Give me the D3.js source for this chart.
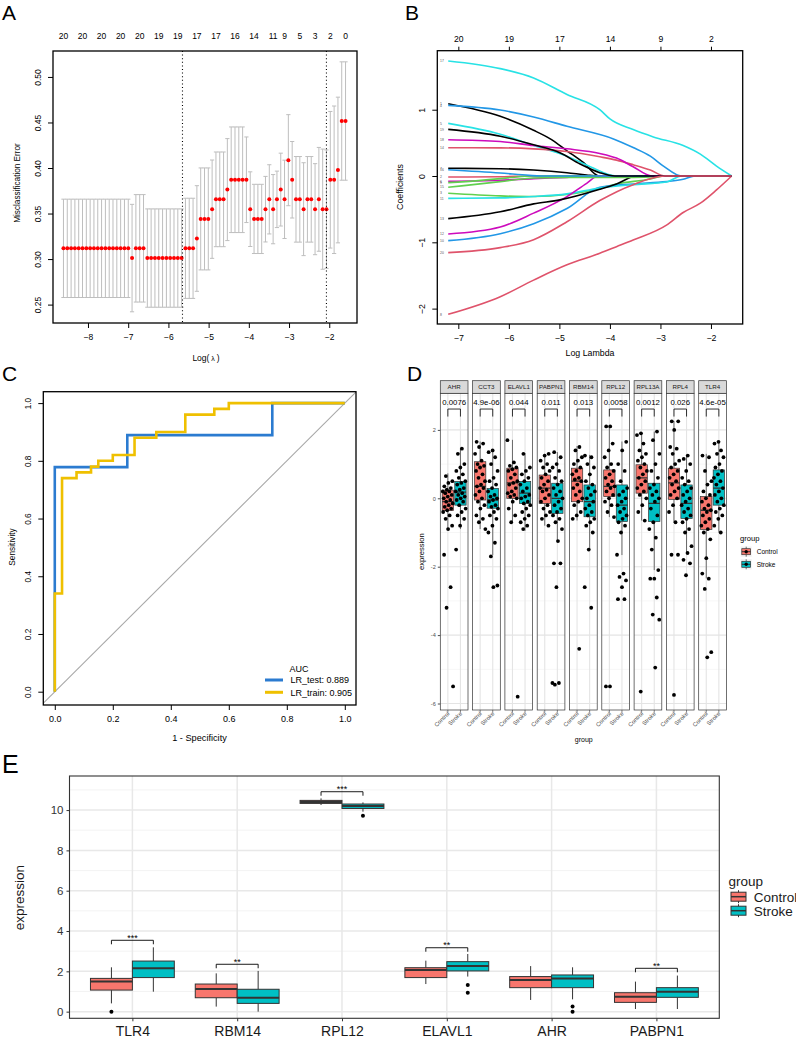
<!DOCTYPE html>
<html>
<head>
<meta charset="utf-8">
<script src="https://cdn.jsdelivr.net/npm/d3@7/dist/d3.min.js"></script>
<style>
html,body{margin:0;padding:0;background:#fff;}
svg{display:block;}
</style>
</head>
<body>
<svg id="fig" width="796" height="1038" xmlns="http://www.w3.org/2000/svg"></svg>
<script>
// ======================= DATA =======================
// ---- Panel A : cv.glmnet misclassification curve ----
const cvLogLambda = [-8.610,-8.515,-8.420,-8.326,-8.231,-8.136,-8.041,-7.946,-7.852,-7.757,
  -7.662,-7.567,-7.472,-7.378,-7.283,-7.188,-7.093,-6.998,-6.904,-6.809,
  -6.714,-6.619,-6.524,-6.430,-6.335,-6.240,-6.145,-6.050,-5.956,-5.861,
  -5.766,-5.671,-5.576,-5.482,-5.387,-5.292,-5.197,-5.102,-5.008,-4.913,
  -4.818,-4.723,-4.628,-4.534,-4.439,-4.344,-4.249,-4.154,-4.060,-3.965,
  -3.870,-3.775,-3.680,-3.586,-3.491,-3.396,-3.301,-3.206,-3.112,-3.017,
  -2.922,-2.827,-2.732,-2.638,-2.543,-2.448,-2.353,-2.258,-2.164,-2.069,
  -1.974,-1.879,-1.784,-1.690,-1.595];
const cvError = [0.3118,0.3118,0.3118,0.3118,0.3118,0.3118,0.3118,0.3118,0.3118,0.3118,
  0.3118,0.3118,0.3118,0.3118,0.3118,0.3118,0.3118,0.3118,0.3011,0.3118,
  0.3118,0.3118,0.3011,0.3011,0.3011,0.3011,0.3011,0.3011,0.3011,0.3011,
  0.3011,0.3011,0.3118,0.3118,0.3118,0.3226,0.3441,0.3441,0.3441,0.3548,
  0.3656,0.3656,0.3656,0.3763,0.3871,0.3871,0.3871,0.3871,0.3871,0.3548,
  0.3441,0.3441,0.3441,0.3548,0.3656,0.3548,0.3656,0.3763,0.3656,0.4086,
  0.3871,0.3656,0.3656,0.3548,0.3656,0.3656,0.3548,0.3656,0.3548,0.3548,
  0.3871,0.3871,0.3978,0.4516,0.4516];
const cvSD = [0.054,0.054,0.054,0.054,0.054,0.054,0.054,0.054,0.054,0.054,
  0.054,0.054,0.054,0.054,0.054,0.054,0.054,0.054,0.059,0.059,
  0.059,0.059,0.054,0.054,0.054,0.054,0.054,0.054,0.054,0.054,
  0.054,0.054,0.055,0.055,0.055,0.058,0.056,0.056,0.056,0.054,
  0.052,0.052,0.052,0.056,0.058,0.058,0.058,0.058,0.047,0.041,
  0.038,0.038,0.038,0.036,0.038,0.038,0.031,0.040,0.043,0.050,
  0.042,0.047,0.047,0.051,0.047,0.047,0.050,0.057,0.066,0.065,
  0.075,0.081,0.080,0.065,0.065];
const cvMinLogLambda = -5.65;
const cv1seLogLambda = -2.07;
const cvNzeroAt = [-8.610,-8.136,-7.662,-7.188,-6.714,-6.240,-5.766,-5.292,-4.818,-4.344,-3.870,-3.396,-3.112,-2.732,-2.353,-1.974,-1.595];
const cvNzeroLabel = ["20","20","20","20","20","19","19","17","17","16","14","11","9","5","3","2","0"];
const aXTicks = [-8,-7,-6,-5,-4,-3,-2];
const aYTicks = [0.25,0.30,0.35,0.40,0.45,0.50];

// ---- Panel B : coefficient paths ----
const bXTicks = [-7,-6,-5,-4,-3,-2];
const bTopLabels = ["20","19","17","14","9","2"];
const bYTicks = [-2,-1,0,1];
const coefColors = ["#000000","#DF536B","#61D04F","#2297E6","#28E2E5","#CD0BBC"];
const coefPaths = [
  [[-7.2,1.09],[-6.17,0.90],[-5.51,0.69],[-5.18,0.56],[-4.85,0.38],[-4.52,0.20],[-4.21,0]],
  [[-7.2,-0.015],[-6.17,-0.01],[-5.51,0]],
  [[-7.2,-0.26],[-6.17,-0.30],[-5.51,-0.31],[-4.85,-0.28],[-4.33,-0.21],[-3.87,-0.12],[-3.2,-0.045],[-2.94,0]],
  [[-7.2,1.066],[-6.17,0.995],[-5.51,0.89],[-4.85,0.75],[-3.93,0.56],[-3.54,0.43],[-3.2,0.30],[-2.94,0.15],[-2.58,0]],
  [[-7.2,0.794],[-6.17,0.63],[-5.51,0.46],[-4.85,0.30],[-4.39,0.14],[-3.87,0]],
  [[-7.2,-0.08],[-6.17,-0.065],[-5.51,-0.04],[-4.85,-0.02],[-4.33,0]],
  [[-7.2,0.116],[-6.17,0.11],[-5.51,0.09],[-4.85,0.05],[-4.46,0.015],[-4.23,0]],
  [[-7.2,-2.086],[-6.17,-1.82],[-5.51,-1.57],[-4.85,-1.34],[-4.2,-1.166],[-3.87,-1.066],[-3.54,-0.965],[-2.88,-0.74],[-2.55,-0.55],[-2.21,-0.41],[-1.89,-0.21],[-1.59,0]],
  [[-7.2,-0.10],[-6.6,-0.07],[-6.17,-0.04],[-5.8,-0.01],[-5.6,0]],
  [[-7.2,-0.975],[-6.17,-0.87],[-5.51,-0.72],[-4.85,-0.49],[-4.2,-0.17],[-3.54,-0.12],[-2.88,-0.085],[-2.55,-0.05],[-2.31,0]],
  [[-7.2,-0.337],[-6.17,-0.33],[-5.51,-0.31],[-4.85,-0.27],[-4.2,-0.18],[-3.54,-0.13],[-2.88,-0.09],[-2.58,0]],
  [[-7.2,-0.875],[-6.17,-0.77],[-5.51,-0.56],[-4.85,-0.31],[-4.46,-0.11],[-4.23,0]],
  [[-7.2,-0.643],[-6.17,-0.54],[-5.51,-0.42],[-4.99,-0.36],[-4.2,-0.2],[-3.87,-0.12],[-3.47,0]],
  [[-7.2,0.427],[-6.17,0.425],[-5.51,0.41],[-4.85,0.37],[-4.2,0.29],[-3.87,0.24],[-3.54,0.17],[-3.2,0.09],[-2.91,0]],
  [[-7.2,-0.17],[-6.17,-0.085],[-5.51,-0.03],[-4.85,-0.02],[-3.54,-0.02],[-3.1,-0.01],[-2.94,0]],
  [[-7.2,0.095],[-6.17,0.045],[-5.6,0.01],[-5.38,0]],
  [[-7.2,1.735],[-6.17,1.62],[-5.51,1.48],[-4.85,1.23],[-4.2,1.0],[-4.0,0.86],[-3.54,0.70],[-3.14,0.59],[-2.55,0.46],[-2.21,0.33],[-1.89,0.15],[-1.59,0]],
  [[-7.2,0.548],[-6.17,0.52],[-5.51,0.46],[-4.85,0.41],[-4.2,0.34],[-3.87,0.27],[-3.54,0.14],[-3.17,0]],
  [[-7.2,0.704],[-6.17,0.60],[-5.51,0.47],[-4.99,0.35],[-4.59,0.18],[-4.2,0.05],[-3.9,0]],
  [[-7.2,-1.156],[-6.17,-1.08],[-5.51,-0.96],[-4.85,-0.69],[-4.2,-0.37],[-3.54,-0.13],[-2.91,0]]
];
const coefEndLogLambda = -1.59;

// ---- Panel C : ROC ----
const rocTestFPR = [0,0,0.25,0.25,0.75,0.75,1];
const rocTestTPR = [0,0.778,0.778,0.889,0.889,1,1];
const rocTrainFPR = [0,0,0.025,0.025,0.075,0.075,0.125,0.125,0.15,0.15,0.2,0.2,0.275,0.275,0.35,0.35,0.45,0.45,0.55,0.55,0.6,0.6,1];
const rocTrainTPR = [0,0.34,0.34,0.74,0.74,0.76,0.76,0.78,0.78,0.80,0.80,0.82,0.82,0.88,0.88,0.90,0.90,0.96,0.96,0.98,0.98,1,1];
const rocNames = ["LR_test: 0.889","LR_train: 0.905"];
const rocColors = ["#2B7BD0","#EFC000"];
const cTicks = [0,0.2,0.4,0.6,0.8,1.0];

// ---- Panel D : faceted boxplots ----
const genesD = ["AHR","CCT3","ELAVL1","PABPN1","RBM14","RPL12","RPL13A","RPL4","TLR4"];
const pvalD = ["0.0076","4.9e-06","0.044","0.011","0.013","0.0058","0.0012","0.026","4.6e-05"];
const groups = ["Control","Stroke"];
const groupColors = ["#F8766D","#00BFC4"];
// [lower whisker, q1, median, q3, upper whisker]
const boxD_Control = [[-0.9,-0.36,-0.1,0.24,0.73],[-0.9,-0.05,0.35,1.07,1.66],[-0.71,0.0,0.45,0.88,1.71],[-0.8,-0.15,0.3,0.68,1.3],[-0.65,-0.1,0.5,0.88,1.53],[-0.55,0.05,0.35,0.83,2.13],[-0.65,0.15,0.6,0.98,1.92],[-0.7,-0.03,0.45,0.88,2.26],[-2.34,-0.91,-0.35,0.05,1.3]];
const boxD_Stroke = [[-0.9,-0.2,0.18,0.49,1.45],[-1.66,-0.29,-0.05,0.29,1.4],[-0.95,-0.15,0.15,0.49,1.32],[-1.22,-0.44,0.0,0.44,1.35],[-1.49,-0.54,-0.1,0.39,1.27],[-1.66,-0.68,-0.2,0.39,1.66],[-2.1,-0.68,-0.15,0.44,1.95],[-1.6,-0.59,-0.15,0.39,1.25],[-1.0,-0.2,0.3,0.83,1.65]];
const ptsD_Control = [
  [0.65,0.5,0.45,0.35,0.3,0.25,0.2,0.2,0.15,0.1,0.05,0.0,-0.05,-0.1,-0.15,-0.2,-0.25,-0.3,-0.35,-0.4,-0.5,-0.6,-0.8,-0.9,-1.65,-2.6,-3.2,-5.5],
  [1.65,1.6,1.5,1.3,1.1,1.0,0.95,0.9,0.8,0.7,0.6,0.5,0.4,0.35,0.3,0.2,0.1,0.0,-0.1,-0.2,-0.3,-0.5,-0.6,-0.7,-0.9],
  [1.7,1.05,0.95,0.9,0.85,0.8,0.7,0.6,0.5,0.45,0.4,0.3,0.2,0.15,0.1,0.05,0.0,-0.1,-0.3,-0.5,-0.7,-5.8],
  [1.3,1.25,1.1,1.0,0.9,0.8,0.7,0.6,0.5,0.4,0.3,0.25,0.2,0.1,0.0,-0.1,-0.2,-0.3,-0.4,-0.5,-0.6,-0.8],
  [1.5,1.4,1.2,1.1,1.0,0.9,0.8,0.7,0.6,0.55,0.5,0.4,0.3,0.2,0.1,0.0,-0.1,-0.2,-0.4,-0.5,-0.6,-4.4],
  [2.1,2.1,1.6,1.4,1.2,1.0,0.9,0.8,0.7,0.6,0.5,0.4,0.35,0.3,0.2,0.1,0.0,-0.1,-0.2,-0.4,-0.55,-5.5,-5.5],
  [1.9,1.85,1.6,1.4,1.3,1.2,1.1,1.0,0.9,0.8,0.7,0.6,0.5,0.4,0.3,0.2,0.1,0.0,-0.2,-0.4,-0.65,-5.65],
  [2.25,2.25,2.0,1.5,1.45,1.3,1.1,1.0,0.9,0.8,0.7,0.6,0.5,0.4,0.3,0.2,0.1,0.0,-0.2,-0.4,-0.7,-1.65,-1.65,-5.75],
  [1.25,1.2,0.8,0.5,0.4,0.2,0.1,0.0,-0.1,-0.2,-0.3,-0.35,-0.4,-0.5,-0.6,-0.7,-0.8,-0.9,-1.0,-1.2,-1.75,-2.2,-2.35,-2.65,-4.5,-4.65]
];
const ptsD_Stroke = [
  [1.45,1.3,1.0,0.9,0.8,0.7,0.6,0.5,0.45,0.4,0.3,0.25,0.2,0.15,0.1,0.05,0.0,-0.05,-0.1,-0.2,-0.3,-0.4,-0.5,-0.6,-0.8,-1.5],
  [1.4,1.35,1.2,1.0,0.8,0.6,0.5,0.4,0.3,0.2,0.1,0.05,0.0,-0.05,-0.1,-0.2,-0.25,-0.3,-0.4,-0.5,-0.6,-0.8,-1.0,-1.3,-1.7,-2.55,-2.6],
  [1.3,0.9,0.8,0.7,0.6,0.5,0.4,0.3,0.2,0.1,0.05,0.0,-0.1,-0.15,-0.2,-0.3,-0.4,-0.5,-0.6,-0.7,-0.8,-0.9],
  [1.35,1.2,1.0,0.9,0.8,0.6,0.5,0.4,0.3,0.2,0.1,0.0,-0.1,-0.2,-0.3,-0.4,-0.5,-0.6,-0.7,-0.9,-1.25,-1.9,-1.9,-2.6,-5.4,-5.4,-5.45],
  [1.25,1.2,1.0,0.9,0.7,0.5,0.4,0.3,0.2,0.1,0.0,-0.1,-0.2,-0.3,-0.4,-0.5,-0.6,-0.7,-0.8,-1.0,-1.5,-2.6,-3.2],
  [1.65,1.4,1.0,0.8,0.5,0.3,0.2,0.1,0.0,-0.1,-0.2,-0.3,-0.4,-0.5,-0.6,-0.7,-0.8,-1.0,-1.65,-2.2,-2.3,-2.4,-2.6,-2.95,-2.95],
  [1.95,1.7,1.3,1.0,0.8,0.6,0.4,0.3,0.2,0.1,0.0,-0.1,-0.3,-0.5,-0.7,-0.9,-1.15,-1.5,-2.1,-2.35,-2.35,-2.9,-3.4,-3.55,-4.95],
  [1.25,1.15,1.0,0.8,0.6,0.5,0.4,0.3,0.2,0.1,0.0,-0.1,-0.2,-0.3,-0.4,-0.5,-0.6,-0.7,-0.9,-1.0,-1.4,-1.6,-1.8,-1.9,-2.25],
  [1.65,1.6,1.4,1.3,1.2,1.0,0.9,0.8,0.7,0.6,0.5,0.4,0.3,0.2,0.1,0.0,-0.1,-0.2,-0.3,-0.4,-0.5,-0.6,-0.8,-1.0]
];
const dYTicks = [-6,-4,-2,0,2];
const dYMinor = [-5,-3,-1,1,3];

// ---- Panel E : grouped boxplots ----
const genesE = ["TLR4","RBM14","RPL12","ELAVL1","AHR","PABPN1"];
const boxE_Control = [[0.41,1.07,1.49,1.65,2.2],[0.25,0.69,1.12,1.37,1.9],[10.25,10.33,10.4,10.48,10.58],[1.37,1.69,2.07,2.18,2.53],[0.58,1.19,1.57,1.74,2.26],[0.13,0.46,0.74,0.94,1.49]];
const boxE_Stroke = [[0.99,1.69,2.15,2.51,3.19],[0.0,0.41,0.69,1.11,2.02],[9.92,10.08,10.2,10.30,10.38],[1.74,2.02,2.26,2.48,2.86],[0.61,1.19,1.65,1.82,2.2],[0.13,0.71,0.99,1.19,1.79]];
const outE_Control = [[0.0],[],[],[],[],[]];
const outE_Stroke = [[],[],[9.72],[1.32,0.94],[0.25,0.0],[]];
const sigE = ["***","**","***","**","","**"];
const sigE_y = [3.54,2.35,10.91,3.17,null,2.15];
const eYTicks = [0,2,4,6,8,10];
const eYMinor = [1,3,5,7,9,11];

// ======================= DRAWING =======================
const FONT = '"Liberation Sans", Arial, Helvetica, sans-serif';
const svg = d3.select("#fig").attr("font-family", FONT);
svg.append("rect").attr("width",796).attr("height",1038).attr("fill","#fff");
const minus = v => (v < 0 ? "\u2212" + Math.abs(v) : String(v));

function panelLabel(t,x,y,s){ svg.append("text").attr("x",x).attr("y",y).attr("font-size",s).attr("fill","#000").text(t); }
panelLabel("A",2,20,21); panelLabel("B",405,20,21); panelLabel("C",2,381,21); panelLabel("D",407,381,21); panelLabel("E",2,773,25);

function styleAxis(g, fs, col){
  g.attr("font-family",FONT).attr("font-size",fs);
  g.select(".domain").remove();
  g.selectAll(".tick line").attr("stroke",col||"#000");
  g.selectAll(".tick text").attr("fill",col||"#000");
}
function rotLeft(g, off){
  g.selectAll(".tick text").attr("x",null).attr("dy",null).attr("text-anchor","middle")
   .attr("transform",`translate(${-off},0) rotate(-90)`);
}
function rotTitle(t,cx,cy,fs,col){
  svg.append("text").attr("transform",`translate(${cx},${cy}) rotate(-90)`).attr("text-anchor","middle")
    .attr("font-size",fs).attr("fill",col||"#000").text(t);
}

// ---------------- Panel A ----------------
(function(){
  const L=53,R=357,T=51,B=323;
  const x = d3.scaleLinear().domain([-8.87,-1.31]).range([L,R]);
  const y = d3.scaleLinear().domain([0.2298,0.5285]).range([B,T]);
  const g = svg.append("g");
  cvLogLambda.forEach((l,i)=>{
    const cx=x(l), yu=y(cvError[i]+cvSD[i]), yl=y(cvError[i]-cvSD[i]);
    g.append("line").attr("x1",cx).attr("x2",cx).attr("y1",yu).attr("y2",yl).attr("stroke","#BEBEBE").attr("stroke-width",1);
    [yu,yl].forEach(yy=>g.append("line").attr("x1",cx-2.1).attr("x2",cx+2.1).attr("y1",yy).attr("y2",yy).attr("stroke","#BEBEBE").attr("stroke-width",1));
  });
  g.selectAll("circle.cv").data(cvLogLambda).join("circle").attr("cx",d=>x(d)).attr("cy",(d,i)=>y(cvError[i])).attr("r",2).attr("fill","#FF0000");
  [cvMinLogLambda,cv1seLogLambda].forEach(v=>g.append("line").attr("x1",x(v)).attr("x2",x(v)).attr("y1",T).attr("y2",B)
     .attr("stroke","#000").attr("stroke-width",1.1).attr("stroke-dasharray","1,2.6"));
  g.append("rect").attr("x",L).attr("y",T).attr("width",R-L).attr("height",B-T).attr("fill","none").attr("stroke","#000").attr("stroke-width",1.3);
  const ax = g.append("g").attr("transform",`translate(0,${B})`)
    .call(d3.axisBottom(x).tickValues(aXTicks).tickSize(5).tickPadding(6).tickFormat(minus));
  styleAxis(ax,8.5);
  const ay = g.append("g").attr("transform",`translate(${L},0)`)
    .call(d3.axisLeft(y).tickValues(aYTicks).tickSize(5).tickFormat(d3.format(".2f")));
  styleAxis(ay,8.5); rotLeft(ay,12);
  g.selectAll("text.nz").data(cvNzeroAt).join("text").attr("x",d=>x(d)).attr("y",39).attr("text-anchor","middle")
    .attr("font-size",8.5).text((d,i)=>cvNzeroLabel[i]);
  const xt = g.append("text").attr("x",206).attr("y",361).attr("text-anchor","middle").attr("font-size",8.5);
  xt.append("tspan").text("Log(");
  xt.append("tspan").attr("font-size",7).text(" \u03bb ");
  xt.append("tspan").text(")");
  rotTitle("Misclassification Error",20,183,8.2);
})();

// ---------------- Panel B ----------------
(function(){
  const L=437.3,R=742.7,T=50.7,B=324;
  const x = d3.scaleLinear().domain([-7.416,-1.372]).range([L,R]);
  const y = d3.scaleLinear().domain([-2.232,1.89]).range([B,T]);
  const g = svg.append("g");
  svg.append("clipPath").attr("id","clipB").append("rect").attr("x",L).attr("y",T).attr("width",R-L).attr("height",B-T);
  const lg = g.append("g").attr("clip-path","url(#clipB)");
  const line = d3.line().x(d=>x(d[0])).y(d=>y(d[1])).curve(d3.curveMonotoneX);
  coefPaths.forEach((p,i)=>{
    const pts = p.slice();
    if (pts[pts.length-1][0] < coefEndLogLambda - 0.001) pts.push([coefEndLogLambda,0]);
    lg.append("path").attr("d",line(pts)).attr("fill","none").attr("stroke",coefColors[i%6]).attr("stroke-width",1.6);
  });
  coefPaths.forEach((p,i)=>{
    g.append("text").attr("x",440).attr("y",y(p[0][1])+1.2).attr("font-size",3.4).attr("fill","#555").text(String(i+1));
  });
  g.append("rect").attr("x",L).attr("y",T).attr("width",R-L).attr("height",B-T).attr("fill","none").attr("stroke","#000").attr("stroke-width",1.3);
  const ax = g.append("g").attr("transform",`translate(0,${B})`)
    .call(d3.axisBottom(x).tickValues(bXTicks).tickSize(5).tickPadding(6).tickFormat(minus));
  styleAxis(ax,8.8);
  const at = g.append("g").attr("transform",`translate(0,${T})`)
    .call(d3.axisTop(x).tickValues(bXTicks).tickSize(4).tickPadding(5).tickFormat((d,i)=>bTopLabels[i]));
  styleAxis(at,8.6);
  const ay = g.append("g").attr("transform",`translate(${L},0)`)
    .call(d3.axisLeft(y).tickValues(bYTicks).tickSize(5).tickFormat(minus));
  styleAxis(ay,8.8); rotLeft(ay,12);
  g.append("text").attr("x",590).attr("y",355.5).attr("text-anchor","middle").attr("font-size",8.8).text("Log Lambda");
  rotTitle("Coefficients",403,187,8.8);
})();

// ---------------- Panel C ----------------
(function(){
  const L=43.3,R=356,T=391.7,B=705;
  const x = d3.scaleLinear().domain([-0.0396,1.0386]).range([L,R]);
  const y = d3.scaleLinear().domain([-0.0461,1.0395]).range([B,T]);
  const g = svg.append("g");
  svg.append("clipPath").attr("id","clipC").append("rect").attr("x",L).attr("y",T).attr("width",R-L).attr("height",B-T);
  const cg = g.append("g").attr("clip-path","url(#clipC)");
  cg.append("line").attr("x1",x(-0.1)).attr("y1",y(-0.1)).attr("x2",x(1.1)).attr("y2",y(1.1)).attr("stroke","#A8A8A8").attr("stroke-width",1.1);
  const line = d3.line().x(d=>x(d[0])).y(d=>y(d[1]));
  cg.append("path").attr("d",line(rocTestFPR.map((f,i)=>[f,rocTestTPR[i]]))).attr("fill","none").attr("stroke",rocColors[0]).attr("stroke-width",2.6);
  cg.append("path").attr("d",line(rocTrainFPR.map((f,i)=>[f,rocTrainTPR[i]]))).attr("fill","none").attr("stroke",rocColors[1]).attr("stroke-width",2.6);
  g.append("rect").attr("x",L).attr("y",T).attr("width",R-L).attr("height",B-T).attr("fill","none").attr("stroke","#000").attr("stroke-width",1.3);
  const ax = g.append("g").attr("transform",`translate(0,${B})`)
    .call(d3.axisBottom(x).tickValues(cTicks).tickSize(5).tickPadding(6).tickFormat(d3.format(".1f")));
  styleAxis(ax,9);
  const ay = g.append("g").attr("transform",`translate(${L},0)`)
    .call(d3.axisLeft(y).tickValues(cTicks).tickSize(5).tickFormat(d3.format(".1f")));
  styleAxis(ay,8.2); rotLeft(ay,12);
  g.append("text").attr("x",199.5).attr("y",740.5).attr("text-anchor","middle").attr("font-size",9.2).text("1 - Specificity");
  rotTitle("Sensitivity",15,547,8.3);
  g.append("text").attr("x",289.5).attr("y",671.5).attr("font-size",9).text("AUC");
  rocNames.forEach((n,i)=>{
    const yy = 680 + i*12.3;
    g.append("line").attr("x1",265).attr("x2",283).attr("y1",yy).attr("y2",yy).attr("stroke",rocColors[i]).attr("stroke-width",3);
    g.append("text").attr("x",290.4).attr("y",yy+3.2).attr("font-size",9).text(n);
  });
})();

// ---------------- Panel D ----------------
(function(){
  const T=393.3,B=710,W=27.7,step=32.3,X0=440.3,stripT=380.7;
  const y = d3.scaleLinear().domain([-6.19,3.07]).range([B,T]);
  const g = svg.append("g");
  const jit = i => (((i*0.61803398875+0.31) % 1) - 0.5) * 10.5;
  genesD.forEach((gene,k)=>{
    const x0 = X0 + k*step;
    const x = d3.scalePoint().domain(groups).range([x0 + 0.6/2.2*W, x0 + 1.6/2.2*W]);
    const bw = 0.9/2.2*W;
    const id = "clipD"+k;
    svg.append("clipPath").attr("id",id).append("rect").attr("x",x0).attr("y",T).attr("width",W).attr("height",B-T);
    const pg = g.append("g");
    pg.append("rect").attr("x",x0).attr("y",T).attr("width",W).attr("height",B-T).attr("fill","#fff");
    const cg = pg.append("g").attr("clip-path",`url(#${id})`);
    dYMinor.forEach(v=>cg.append("line").attr("x1",x0).attr("x2",x0+W).attr("y1",y(v)).attr("y2",y(v)).attr("stroke","#F0F0F0").attr("stroke-width",0.6));
    dYTicks.forEach(v=>cg.append("line").attr("x1",x0).attr("x2",x0+W).attr("y1",y(v)).attr("y2",y(v)).attr("stroke","#E4E4E4").attr("stroke-width",1.1));
    groups.forEach(gr=>cg.append("line").attr("x1",x(gr)).attr("x2",x(gr)).attr("y1",T).attr("y2",B).attr("stroke","#E4E4E4").attr("stroke-width",1.1));
    [boxD_Control[k],boxD_Stroke[k]].forEach((s,gi)=>{
      const cx = x(groups[gi]);
      cg.append("line").attr("x1",cx).attr("x2",cx).attr("y1",y(s[4])).attr("y2",y(s[3])).attr("stroke","#333").attr("stroke-width",0.7);
      cg.append("line").attr("x1",cx).attr("x2",cx).attr("y1",y(s[1])).attr("y2",y(s[0])).attr("stroke","#333").attr("stroke-width",0.7);
      cg.append("rect").attr("x",cx-bw/2).attr("y",y(s[3])).attr("width",bw).attr("height",y(s[1])-y(s[3]))
        .attr("fill",groupColors[gi]).attr("stroke","#333").attr("stroke-width",0.7);
      cg.append("line").attr("x1",cx-bw/2).attr("x2",cx+bw/2).attr("y1",y(s[2])).attr("y2",y(s[2])).attr("stroke","#333").attr("stroke-width",1.3);
    });
    [ptsD_Control[k],ptsD_Stroke[k]].forEach((pts,gi)=>{
      const cx = x(groups[gi]);
      cg.selectAll(null).data(pts).join("circle").attr("cx",(d,i)=>cx+jit(i+gi*7+k*3)).attr("cy",d=>y(d)).attr("r",1.9).attr("fill","#000");
    });
    const xa=x(groups[0]), xb=x(groups[1]);
    cg.append("path").attr("d",`M${xa},${y(2.39)}V${y(2.61)}H${xb}V${y(2.39)}`).attr("fill","none").attr("stroke","#000").attr("stroke-width",0.8);
    cg.append("text").attr("x",(xa+xb)/2).attr("y",y(2.61)-4.3).attr("text-anchor","middle").attr("font-size",7.8).attr("fill","#000").text(pvalD[k]);
    pg.append("rect").attr("x",x0).attr("y",T).attr("width",W).attr("height",B-T).attr("fill","none").attr("stroke","#333").attr("stroke-width",0.7);
    pg.append("rect").attr("x",x0).attr("y",stripT).attr("width",W).attr("height",T-stripT).attr("fill","#D9D9D9").attr("stroke","#333").attr("stroke-width",0.7);
    pg.append("text").attr("x",x0+W/2).attr("y",(stripT+T)/2+2.2).attr("text-anchor","middle").attr("font-size",6.2).attr("fill","#1A1A1A").text(gene);
    groups.forEach(gr=>{
      const cx=x(gr);
      pg.append("line").attr("x1",cx).attr("x2",cx).attr("y1",B).attr("y2",B+2.5).attr("stroke","#333").attr("stroke-width",0.6);
      pg.append("text").attr("transform",`translate(${cx+2},${B+4}) rotate(-45)`).attr("text-anchor","end").attr("font-size",5.8).attr("fill","#4D4D4D").text(gr);
    });
    if (k===0){
      const ay = g.append("g").attr("transform",`translate(${x0},0)`).call(d3.axisLeft(y).tickValues(dYTicks).tickSize(2.5).tickPadding(2).tickFormat(d=>String(d)));
      styleAxis(ay,5.6,"#4D4D4D");
    }
  });
  g.append("text").attr("x",583.8).attr("y",741.5).attr("text-anchor","middle").attr("font-size",7).attr("fill","#000").text("group");
  rotTitle("expression",424,551.7,7.6);
  g.append("text").attr("x",740).attr("y",540.5).attr("font-size",7.6).text("group");
  groups.forEach((gr,i)=>{
    const cy = 551.7 + i*12.6, cx = 746.2;
    g.append("rect").attr("x",740.7).attr("y",cy-5.2).attr("width",11).attr("height",10.4).attr("fill","#F2F2F2");
    g.append("line").attr("x1",cx).attr("x2",cx).attr("y1",cy-5).attr("y2",cy+5).attr("stroke","#333").attr("stroke-width",0.7);
    g.append("rect").attr("x",741.8).attr("y",cy-3).attr("width",8.8).attr("height",6).attr("fill",groupColors[i]).attr("stroke","#333").attr("stroke-width",0.7);
    g.append("line").attr("x1",741.8).attr("x2",750.6).attr("y1",cy).attr("y2",cy).attr("stroke","#333").attr("stroke-width",1);
    g.append("circle").attr("cx",cx).attr("cy",cy).attr("r",1.7).attr("fill","#000");
    g.append("text").attr("x",756.7).attr("y",cy+2.3).attr("font-size",6.5).text(gr);
  });
})();

// ---------------- Panel E ----------------
(function(){
  const L=69.5,R=719.3,T=776,B=1018.3;
  const step = (R-L)/6.2;
  const x = d3.scalePoint().domain(genesE).range([L+0.6*step, L+5.6*step]);
  const y = d3.scaleLinear().domain([-0.33,11.69]).range([B,T]);
  const g = svg.append("g");
  g.append("rect").attr("x",L).attr("y",T).attr("width",R-L).attr("height",B-T).attr("fill","#fff");
  eYMinor.forEach(v=>g.append("line").attr("x1",L).attr("x2",R).attr("y1",y(v)).attr("y2",y(v)).attr("stroke","#F0F0F0").attr("stroke-width",0.8));
  eYTicks.forEach(v=>g.append("line").attr("x1",L).attr("x2",R).attr("y1",y(v)).attr("y2",y(v)).attr("stroke","#E8E8E8").attr("stroke-width",1.5));
  genesE.forEach(ge=>g.append("line").attr("x1",x(ge)).attr("x2",x(ge)).attr("y1",T).attr("y2",B).attr("stroke","#E8E8E8").attr("stroke-width",1.5));
  const bw = 0.4*step, off = 0.2*step;
  genesE.forEach((ge,k)=>{
    [boxE_Control[k],boxE_Stroke[k]].forEach((s,gi)=>{
      const cx = x(ge) + (gi===0?-off:off);
      g.append("line").attr("x1",cx).attr("x2",cx).attr("y1",y(s[4])).attr("y2",y(s[3])).attr("stroke","#333").attr("stroke-width",1);
      g.append("line").attr("x1",cx).attr("x2",cx).attr("y1",y(s[1])).attr("y2",y(s[0])).attr("stroke","#333").attr("stroke-width",1);
      g.append("rect").attr("x",cx-bw/2).attr("y",y(s[3])).attr("width",bw).attr("height",Math.max(0.5,y(s[1])-y(s[3])))
        .attr("fill",groupColors[gi]).attr("stroke","#333").attr("stroke-width",1);
      g.append("line").attr("x1",cx-bw/2).attr("x2",cx+bw/2).attr("y1",y(s[2])).attr("y2",y(s[2])).attr("stroke","#333").attr("stroke-width",2);
      const outs = gi===0 ? outE_Control[k] : outE_Stroke[k];
      outs.forEach(o=>g.append("circle").attr("cx",cx).attr("cy",y(o)).attr("r",2).attr("fill","#000"));
    });
    if (sigE[k]){
      const xa = x(ge)-off, xb = x(ge)+off, yy = y(sigE_y[k]);
      g.append("path").attr("d",`M${xa},${yy+4}V${yy}H${xb}V${yy+4}`).attr("fill","none").attr("stroke","#000").attr("stroke-width",0.9);
      g.append("text").attr("x",(xa+xb)/2).attr("y",yy+0.5).attr("text-anchor","middle").attr("font-size",9).text(sigE[k]);
    }
  });
  g.append("rect").attr("x",L).attr("y",T).attr("width",R-L).attr("height",B-T).attr("fill","none").attr("stroke","#333").attr("stroke-width",1.1);
  const ay = g.append("g").attr("transform",`translate(${L},0)`).call(d3.axisLeft(y).tickValues(eYTicks).tickSize(3).tickPadding(3).tickFormat(d=>String(d)));
  styleAxis(ay,11.5,"#333");
  const ax = g.append("g").attr("transform",`translate(0,${B})`).call(d3.axisBottom(x).tickSize(3).tickPadding(3));
  styleAxis(ax,14,"#333");
  ax.selectAll(".tick text").attr("dy",null).attr("y",17.5).attr("fill","#1A1A1A");
  rotTitle("expression",23.5,897.7,13.5,"#1A1A1A");
  g.append("text").attr("x",728.4).attr("y",885.5).attr("font-size",13.5).attr("fill","#1A1A1A").text("group");
  groups.forEach((gr,i)=>{
    const cy = 896.7 + i*14, cx = 738.5;
    g.append("line").attr("x1",cx).attr("x2",cx).attr("y1",cy-6.5).attr("y2",cy+6.5).attr("stroke","#333").attr("stroke-width",1);
    g.append("rect").attr("x",731).attr("y",cy-4.5).attr("width",15).attr("height",9).attr("fill",groupColors[i]).attr("stroke","#333").attr("stroke-width",1);
    g.append("line").attr("x1",731).attr("x2",746).attr("y1",cy).attr("y2",cy).attr("stroke","#333").attr("stroke-width",1.5);
    g.append("text").attr("x",753.8).attr("y",cy+5).attr("font-size",13.5).attr("fill","#1A1A1A").text(gr);
  });
})();
</script>
</body>
</html>
